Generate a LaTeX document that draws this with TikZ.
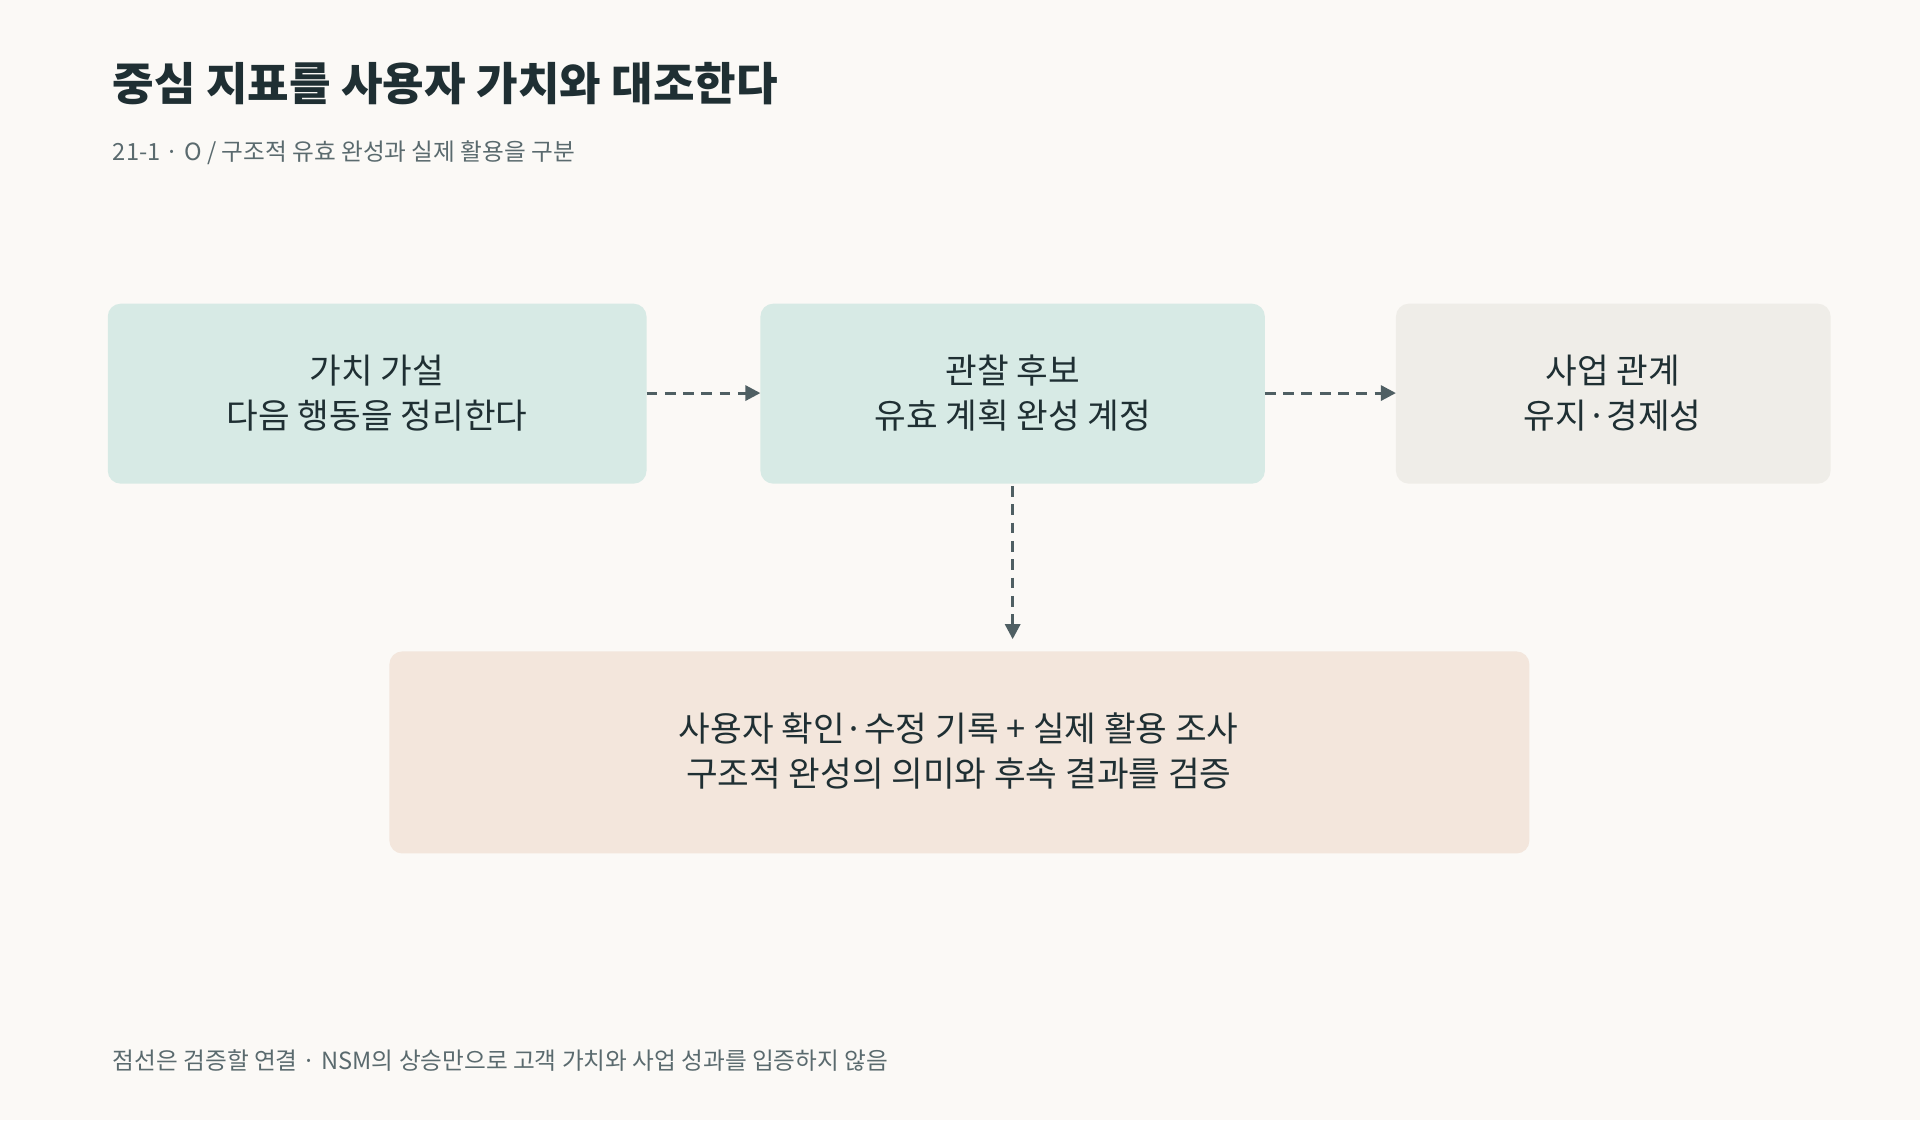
\documentclass[tikz,border=0pt]{standalone}
\usepackage{fontspec}
\setmainfont{Noto Sans CJK KR}
\usetikzlibrary{arrows.meta}
\definecolor{bg}{HTML}{FBF9F6}
\definecolor{teal}{HTML}{D7EAE5}
\definecolor{grayb}{HTML}{EFEDE8}
\definecolor{peach}{HTML}{F3E6DC}
\definecolor{ink}{HTML}{1F2F33}
\definecolor{sub}{HTML}{5A6A6E}
\definecolor{arr}{HTML}{4F5F63}
\begin{document}
\begin{tikzpicture}[x=0.02cm,y=-0.02cm,
  box/.style={rounded corners=6pt,draw=none,align=center,text=ink,font=\fontsize{16}{21}\selectfont},
  con/.style={draw=arr,line width=1.4pt,dash pattern=on 5pt off 3.5pt,-{Triangle[length=7pt,width=7pt]}}]
\fill[bg] (0,0) rectangle (1568,915);
\useasboundingbox (0,0) rectangle (1568,915);
\node[anchor=west,text=ink,font=\fontsize{21}{25}\bfseries\selectfont] (title) at (86,68) {중심 지표를 사용자 가치와 대조한다};
\node[anchor=west,text=sub,font=\fontsize{11}{13}\selectfont] (subt) at (86,125) {21-1 · O / 구조적 유효 완성과 실제 활용을 구분};
\fill[teal,rounded corners=6pt] (88,248) rectangle (528,395);
\node[box] (a) at (308,321) {가치 가설\\다음 행동을 정리한다};
\fill[teal,rounded corners=6pt] (621,248) rectangle (1033,395);
\node[box] (b) at (827,321) {관찰 후보\\유효 계획 완성 계정};
\fill[grayb,rounded corners=6pt] (1140,248) rectangle (1495,395);
\node[box] (c) at (1317,321) {사업 관계\\유지·경제성};
\fill[peach,rounded corners=6pt] (318,532) rectangle (1249,697);
\node[box] (d) at (783,613) {사용자 확인·수정 기록 + 실제 활용 조사\\구조적 완성의 의미와 후속 결과를 검증};
\coordinate (a1) at (528,321); \coordinate (b0) at (621,321);
\coordinate (b1) at (1033,321); \coordinate (c0) at (1140,321);
\coordinate (b2) at (827,397); \coordinate (d0) at (827,522);
\draw[con] (a1) -- (b0);
\draw[con] (b1) -- (c0);
\draw[con] (b2) -- (d0);
\node[anchor=west,text=sub,font=\fontsize{11}{13}\selectfont] (foot) at (86,866) {점선은 검증할 연결 · NSM의 상승만으로 고객 가치와 사업 성과를 입증하지 않음};
\end{tikzpicture}
\end{document}
